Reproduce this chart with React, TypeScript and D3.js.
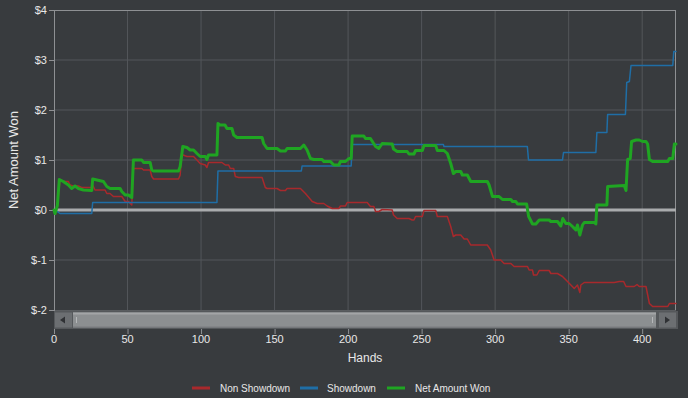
import React from "react";
import * as d3 from "d3";

const W = 688;
const H = 398;

const xTicks = [0, 50, 100, 150, 200, 250, 300, 350, 400];
const yTicks = [-2, -1, 0, 1, 2, 3, 4];
const seriesNames = ["Non Showdown", "Showdown", "Net Amount Won"];
const seriesColors = ["#a8292c", "#1f6ea6", "#1fa522"];
const seriesWidths = [1.5, 1.5, 3];

const nonShowdown: [number, number][] = [
  [0, 0], [0.7, -0.07], [2.3, 0.07], [4.1, 0.61], [6.3, 0.57], [9.8, 0.57], [10.9, 0.5], [13.2, 0.48],
  [16.6, 0.48], [18.8, 0.45], [25.7, 0.45], [26.3, 0.5], [27.9, 0.4], [34.7, 0.4], [35.9, 0.33],
  [38.1, 0.33], [40.4, 0.27], [46.1, 0.27], [48.4, 0.17], [50.6, 0.17], [52.9, 0.1], [54.0, 0.83],
  [59.7, 0.83], [60.9, 0.8], [65.4, 0.8], [66.5, 0.67], [67.7, 0.62], [84.7, 0.62], [85.8, 0.7],
  [86.9, 1.11], [90.4, 1.07], [94.9, 1.07], [97.2, 1.0], [99.4, 0.93], [102.9, 0.9], [104.0, 0.85],
  [105.1, 0.95], [114.2, 0.95], [116.5, 0.9], [118.8, 0.9], [119.9, 0.83], [122.2, 0.83], [123.3, 0.67],
  [125.6, 0.65], [141.5, 0.65], [143.7, 0.45], [144.9, 0.43], [151.7, 0.43], [154.0, 0.39], [157.4, 0.39],
  [158.5, 0.43], [167.6, 0.43], [171.0, 0.33], [175.6, 0.17], [179.0, 0.13], [183.5, 0.13], [185.8, 0.08],
  [189.2, 0.03], [193.7, 0.03], [194.8, 0.08], [198.2, 0.08], [199.4, 0.15], [213.0, 0.15], [215.2, 0.07],
  [217.5, 0.07], [218.7, -0.03], [220.9, -0.03], [223.2, 0.01], [230.0, 0.0], [230.9, -0.1], [233.4, -0.17],
  [241.4, -0.17], [243.6, -0.2], [244.8, -0.2], [245.9, -0.13], [250.5, -0.13], [251.6, -0.01],
  [259.6, -0.01], [260.7, -0.13], [267.5, -0.13], [269.8, -0.33], [271.6, -0.53], [273.2, -0.5],
  [276.6, -0.5], [278.9, -0.58], [281.1, -0.58], [283.4, -0.7], [294.7, -0.7], [297.0, -0.8],
  [299.3, -1.0], [303.8, -1.0], [306.1, -1.07], [310.7, -1.07], [312.9, -1.13], [322.0, -1.13],
  [323.1, -1.2], [325.4, -1.2], [326.1, -1.3], [328.4, -1.3], [330.0, -1.21], [336.7, -1.21],
  [337.9, -1.27], [342.4, -1.27], [345.8, -1.33], [349.2, -1.43], [351.5, -1.5], [353.8, -1.57],
  [356.0, -1.5], [357.6, -1.65], [358.3, -1.5], [360.6, -1.45], [381.0, -1.45], [384.4, -1.43],
  [387.4, -1.43], [389.0, -1.53], [394.6, -1.53], [396.5, -1.49], [398.0, -1.53], [402.6, -1.53],
  [404.9, -1.87], [407.1, -1.93], [417.4, -1.93], [418.5, -1.87], [423, -1.87],
];

const showdown: [number, number][] = [
  [0, 0], [0.7, 0.0], [4.1, -0.07], [25.7, -0.07], [26.3, 0.15], [110.8, 0.15], [111.5, 0.78],
  [168.2, 0.78], [168.7, 0.88], [202.1, 0.88], [202.8, 1.31], [264.8, 1.31], [265.2, 1.27],
  [321.9, 1.27], [322.7, 1.0], [345.8, 1.0], [346.5, 1.15], [368.5, 1.15], [369.2, 1.55],
  [376.0, 1.55], [376.5, 1.91], [388.6, 1.91], [389.5, 2.55], [391.3, 2.57], [392.4, 2.89],
  [420.8, 2.89], [421.5, 3.17], [423, 3.17],
];

const netWon: [number, number][] = [
  [0, 0], [0.7, -0.07], [2.3, 0.09], [3.6, 0.61], [6.3, 0.57], [9.8, 0.5], [12.0, 0.43], [14.3, 0.48],
  [16.6, 0.43], [20.0, 0.4], [25.7, 0.39], [26.3, 0.62], [33.6, 0.57], [35.9, 0.47], [38.1, 0.43],
  [45.0, 0.43], [46.1, 0.37], [48.4, 0.3], [50.6, 0.3], [52.9, 0.25], [54.0, 1.0], [59.7, 1.0],
  [60.9, 0.95], [65.4, 0.95], [66.5, 0.8], [67.7, 0.78], [84.7, 0.78], [85.8, 0.87], [87.6, 1.27],
  [90.4, 1.25], [92.6, 1.2], [94.9, 1.2], [97.2, 1.13], [99.4, 1.07], [102.9, 1.07], [104.0, 1.01],
  [105.1, 1.1], [110.8, 1.1], [111.5, 1.73], [112.9, 1.7], [116.3, 1.7], [117.6, 1.63], [121.0, 1.63],
  [122.2, 1.5], [124.4, 1.45], [141.5, 1.45], [142.6, 1.33], [144.9, 1.23], [151.7, 1.23],
  [154.0, 1.18], [157.4, 1.18], [158.5, 1.23], [167.6, 1.23], [169.9, 1.3], [172.1, 1.2],
  [174.4, 1.03], [176.7, 1.01], [182.3, 1.01], [183.5, 0.97], [188.0, 0.97], [190.3, 0.9],
  [193.7, 0.9], [194.8, 0.97], [198.2, 0.97], [200.5, 1.03], [202.1, 1.03], [202.8, 1.48],
  [210.7, 1.48], [211.8, 1.43], [215.2, 1.43], [218.7, 1.27], [220.9, 1.23], [223.2, 1.33],
  [230.0, 1.32], [230.9, 1.22], [233.4, 1.17], [240.2, 1.17], [241.4, 1.12], [244.8, 1.12],
  [245.9, 1.19], [250.5, 1.19], [251.6, 1.29], [259.6, 1.29], [260.7, 1.19], [265.2, 1.19],
  [267.5, 1.13], [269.8, 0.93], [271.6, 0.73], [273.2, 0.77], [276.6, 0.77], [277.7, 0.7],
  [281.1, 0.7], [283.4, 0.57], [294.7, 0.57], [295.9, 0.5], [298.2, 0.27], [302.7, 0.27],
  [305.0, 0.21], [310.7, 0.21], [311.8, 0.17], [314.1, 0.17], [315.2, 0.12], [321.4, 0.12],
  [322.8, -0.13], [325.4, -0.28], [327.7, -0.28], [330.0, -0.2], [336.7, -0.2], [337.9, -0.23],
  [342.4, -0.23], [344.7, -0.32], [346.0, -0.17], [348.1, -0.27], [350.3, -0.27], [352.6, -0.33],
  [354.9, -0.4], [356.0, -0.3], [357.6, -0.5], [359.4, -0.3], [360.6, -0.25], [367.4, -0.25],
  [368.5, -0.28], [369.2, 0.1], [376.0, 0.1], [376.5, 0.47], [387.8, 0.49], [389.0, 0.39],
  [390.1, 1.01], [391.9, 1.03], [392.8, 1.37], [395.8, 1.4], [398.0, 1.4], [400.3, 1.37],
  [402.6, 1.37], [403.7, 1.32], [404.9, 1.01], [407.1, 0.97], [417.4, 0.97], [418.5, 1.03],
  [420.8, 1.03], [421.9, 1.32], [423, 1.32],
];

const allSeries = [nonShowdown, showdown, netWon];

const PL = 54, PR = 676, PT = 10, PB = 310;
const FONT = "'Liberation Sans', Arial, sans-serif";

export default function App() {
  const x = d3.scaleLinear().domain([0, 423]).range([PL, PR]);
  const y = d3.scaleLinear().domain([-2, 4]).range([PB, PT]);
  const line = d3.line<[number, number]>().x((d) => x(d[0])).y((d) => y(d[1]));

  const sbTop = 311, sbBot = 329;
  const legendItems = [
    { sx: 192, tx: 220 },
    { sx: 300, tx: 327 },
    { sx: 387, tx: 415 },
  ];

  return (
    <svg width={W} height={H} style={{ position: "absolute", left: 0, top: 0 }} fontFamily={FONT}>
      <rect x={0} y={0} width={W} height={H} fill="#383b3e" />
      {/* grid */}
      {xTicks.filter((t) => t > 0).map((t) => (
        <line key={"gx" + t} x1={x(t)} x2={x(t)} y1={PT} y2={PB} stroke="#53565a" strokeWidth={1} />
      ))}
      {yTicks.filter((t) => t !== 0 && t !== -2 && t !== 4).map((t) => (
        <line key={"gy" + t} x1={PL} x2={PR} y1={y(t)} y2={y(t)} stroke="#53565a" strokeWidth={1} />
      ))}
      {/* frame */}
      <line x1={PL} x2={PR} y1={PT + 0.5} y2={PT + 0.5} stroke="#8e9093" />
      <line x1={PR - 0.5} x2={PR - 0.5} y1={PT} y2={PB} stroke="#8e9093" />
      <line x1={PL} x2={PR} y1={PB + 0.5} y2={PB + 0.5} stroke="#5a5d60" />
      <line x1={PL + 0.5} x2={PL + 0.5} y1={PT} y2={PB + 1} stroke="#8e9093" />
      {/* zero line */}
      <line x1={PL} x2={PR} y1={y(0)} y2={y(0)} stroke="#a9abad" strokeWidth={3} />
      {/* y ticks + labels */}
      {yTicks.map((t) => (
        <g key={"yt" + t}>
          <line x1={PL - 5} x2={PL} y1={y(t) + 0.5} y2={y(t) + 0.5} stroke="#8e9093" />
          <text x={PL - 7} y={y(t)} dy="0.35em" textAnchor="end" fontSize={11} fill="#e8e8e8">
            {"$" + t}
          </text>
        </g>
      ))}
      {/* series */}
      {allSeries.map((s, i) => (
        <path key={"s" + i} d={line(s) || ""} fill="none" stroke={seriesColors[i]}
          strokeWidth={seriesWidths[i]} strokeLinejoin="round" strokeLinecap="round" />
      ))}
      {/* scrollbar */}
      <rect x={PL} y={sbTop} width={PR - PL + 2} height={sbBot - sbTop} fill="#55585b" />
      <rect x={PL + 1} y={sbTop + 1.5} width={17} height={sbBot - sbTop - 3} fill="#6c6f72" />
      <path d={`M${PL + 6},320 L${PL + 11},316.5 L${PL + 11},323.5 Z`} fill="#2f3134" />
      <rect x={PL + 19} y={sbTop + 1.5} width={583} height={sbBot - sbTop - 3} fill="#8c8f91" />
      <rect x={PL + 19} y={sbTop + 1.5} width={583} height={2} fill="#a3a5a7" />
      <rect x={PL + 19} y={sbBot - 2.5} width={583} height={1} fill="#7a7d80" />
      <line x1={PL + 22.5} x2={PL + 22.5} y1={317} y2={323} stroke="#b5b7b9" />
      <line x1={PL + 598.5} x2={PL + 598.5} y1={317} y2={323} stroke="#b5b7b9" />
      <rect x={PR - 17} y={sbTop + 1.5} width={17} height={sbBot - sbTop - 3} fill="#6c6f72" />
      <path d={`M${PR - 6},320 L${PR - 11},316.5 L${PR - 11},323.5 Z`} fill="#2f3134" />
      {/* x ticks + labels */}
      {xTicks.map((t) => (
        <g key={"xt" + t}>
          <line x1={x(t) + 0.5} x2={x(t) + 0.5} y1={sbBot} y2={sbBot + 5} stroke="#8e9093" />
          <text x={x(t)} y={343} textAnchor="middle" fontSize={11} fill="#e8e8e8">{t}</text>
        </g>
      ))}
      {/* axis titles */}
      <text x={(PL + PR) / 2} y={362} textAnchor="middle" fontSize={12} fill="#e8e8e8">Hands</text>
      <text transform={`translate(13,${(PT + PB) / 2}) rotate(-90)`} textAnchor="middle" dy="0.35em"
        fontSize={13} fill="#e8e8e8">Net Amount Won</text>
      {/* legend */}
      {legendItems.map((it, i) => (
        <g key={"lg" + i}>
          <line x1={it.sx} x2={it.sx + 18} y1={388} y2={388} stroke={seriesColors[i]} strokeWidth={3} />
          <text x={it.tx} y={388} dy="0.35em" fontSize={10} fill="#e8e8e8">{seriesNames[i]}</text>
        </g>
      ))}
    </svg>
  );
}
